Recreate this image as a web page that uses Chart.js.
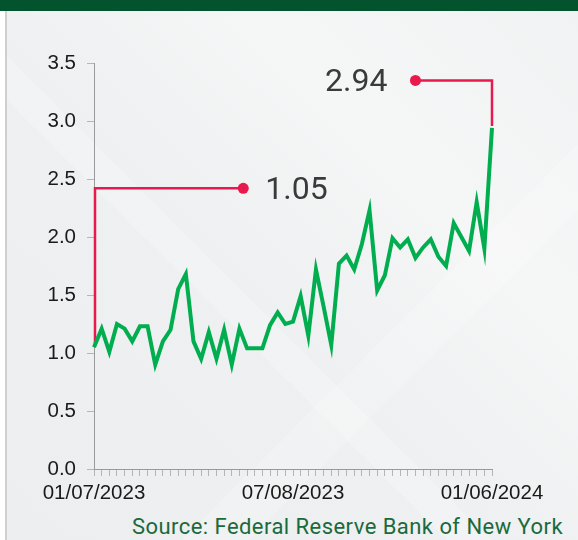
<!DOCTYPE html>
<html>
<head>
<meta charset="utf-8">
<script src="https://cdn.jsdelivr.net/npm/chart.js@4.4.0/dist/chart.umd.min.js"></script>
<style>
    html, body { margin: 0; padding: 0; }
    body { width: 578px; height: 540px; position: relative; overflow: hidden; background: #fff; }
    .banner { position: absolute; left: 0; top: 0; width: 578px; height: 11px; background: #03532f; }
    .card {
        position: absolute; left: 5px; top: 11px; width: 571px; height: 529px;
        border-left: 2px solid #cdcfd0;
        background:
            linear-gradient(45deg, transparent 0 40%, rgba(255,255,255,0.22) 40% 44%, transparent 44% 100%),
            linear-gradient(135deg, transparent 0 64%, rgba(255,255,255,0.18) 64% 70%, transparent 70% 100%),
            linear-gradient(45deg, #eceeef 0%, #eef0f1 45%, #f5f6f6 70%, #f1f2f3 100%);
    }
    .chart-wrap { position: absolute; left: 8px; top: 11px; width: 570px; height: 500px; }
    .source {
        position: absolute; right: 15px; top: 514px;
        font: 400 22px Roboto, sans-serif; letter-spacing: 0.45px; color: #1b6a3c; white-space: nowrap;
    }
</style>
</head>
<body>
<div class="banner"></div>
<div class="card"></div>
<div class="chart-wrap"><canvas id="rateChart"></canvas></div>
<div class="source">Source: Federal Reserve Bank of New York</div>

<script>
const dates = [
    '01/07/2023', '01/14/2023', '01/21/2023', '01/28/2023',
    '02/04/2023', '02/11/2023', '02/18/2023', '02/25/2023',
    '03/04/2023', '03/11/2023', '03/18/2023', '03/25/2023',
    '04/01/2023', '04/08/2023', '04/15/2023', '04/22/2023', '04/29/2023',
    '05/06/2023', '05/13/2023', '05/20/2023', '05/27/2023',
    '06/03/2023', '06/10/2023', '06/17/2023', '06/24/2023',
    '07/01/2023', '07/08/2023', '07/15/2023', '07/22/2023', '07/29/2023',
    '08/05/2023', '08/12/2023', '08/19/2023', '08/26/2023',
    '09/02/2023', '09/09/2023', '09/16/2023', '09/23/2023', '09/30/2023',
    '10/07/2023', '10/14/2023', '10/21/2023', '10/28/2023',
    '11/04/2023', '11/11/2023', '11/18/2023', '11/25/2023',
    '12/02/2023', '12/09/2023', '12/16/2023', '12/23/2023', '12/30/2023',
    '01/06/2024'
];

const rates = [
    1.05, 1.21, 1.01, 1.25, 1.21, 1.10, 1.23, 1.23, 0.90, 1.10,
    1.20, 1.55, 1.68, 1.10, 0.95, 1.18, 0.95, 1.20, 0.90, 1.21,
    1.04, 1.04, 1.04, 1.24, 1.35, 1.25, 1.27, 1.49, 1.15, 1.72,
    1.40, 1.07, 1.77, 1.84, 1.72, 1.94, 2.23, 1.54, 1.67, 1.99,
    1.91, 1.98, 1.82, 1.91, 1.98, 1.83, 1.75, 2.12, 2.00, 1.88,
    2.30, 1.90, 2.94
];

const tickLabels = ['01/07/2023', '07/08/2023', '01/06/2024'];
const yTicks = [0, 0.5, 1.0, 1.5, 2.0, 2.5, 3.0, 3.5];

// callouts: which point, bracket height (data units), where the dot sits (index)
const calloutPoints = [0, 52];
const calloutLevels = [2.42, 3.35];
const calloutDotAt = [19.5, 42];

const RED = '#e8194d';

const calloutPlugin = {
    id: 'callouts',
    beforeDatasetsDraw(chart) {
        const { ctx, scales: { x, y } } = chart;
        ctx.save();
        calloutPoints.forEach((idx, k) => {
            const px = idx === 0 ? x.getPixelForValue(0) + 1 : x.getPixelForValue(idx);
            const py = y.getPixelForValue(rates[idx]);
            const ly = y.getPixelForValue(calloutLevels[k]);
            const dx = x.getPixelForValue(calloutDotAt[k]);

            ctx.strokeStyle = RED;
            ctx.lineWidth = 2.5;
            ctx.beginPath();
            ctx.moveTo(px, py - 2);
            ctx.lineTo(px, ly);
            ctx.lineTo(dx, ly);
            ctx.stroke();

            ctx.fillStyle = RED;
            ctx.beginPath();
            ctx.arc(dx, ly, 5.5, 0, Math.PI * 2);
            ctx.fill();

            ctx.fillStyle = '#3a3a3a';
            ctx.font = '32px Roboto, sans-serif';
            ctx.textBaseline = 'alphabetic';
            const text = rates[idx].toFixed(2);
            if (dx > px) {
                ctx.textAlign = 'left';
                ctx.fillText(text, dx + 22, ly + 11);
            } else {
                ctx.textAlign = 'right';
                ctx.fillText(text, dx - 28, ly + 11);
            }
        });
        ctx.restore();
    }
};

new Chart(document.getElementById('rateChart'), {
    type: 'line',
    data: {
        labels: dates,
        datasets: [{
            data: rates,
            borderColor: '#00ad4f',
            borderWidth: 4,
            pointRadius: 0,
            tension: 0,
            fill: false
        }]
    },
    options: {
        responsive: true,
        maintainAspectRatio: false,
        animation: false,
        layout: { padding: { top: 52, right: 86, bottom: 0, left: 0 } },
        plugins: {
            legend: { display: false },
            tooltip: { enabled: false }
        },
        scales: {
            x: {
                afterFit: scale => { scale.height = 42; },
                border: { color: '#9a9a9a', width: 1 },
                grid: { drawOnChartArea: false, tickLength: 7, color: '#b5b5b5' },
                ticks: {
                    autoSkip: false,
                    maxRotation: 0,
                    padding: 5,
                    color: '#1a1a1a',
                    font: { family: 'Liberation Sans', size: 20.5 },
                    callback: (value, i) => tickLabels.includes(dates[i]) ? dates[i] : ''
                }
            },
            y: {
                min: 0,
                max: 3.5,
                afterFit: scale => { scale.width = 86; },
                afterBuildTicks: scale => { scale.ticks = yTicks.map(v => ({ value: v })); },
                border: { color: '#9a9a9a', width: 1 },
                grid: { drawOnChartArea: false, tickLength: 7, color: '#b5b5b5' },
                ticks: {
                    padding: 11,
                    color: '#1a1a1a',
                    font: { family: 'Liberation Sans', size: 20.5 },
                    callback: v => v.toFixed(1)
                }
            }
        }
    },
    plugins: [calloutPlugin]
});
</script>
</body>
</html>
